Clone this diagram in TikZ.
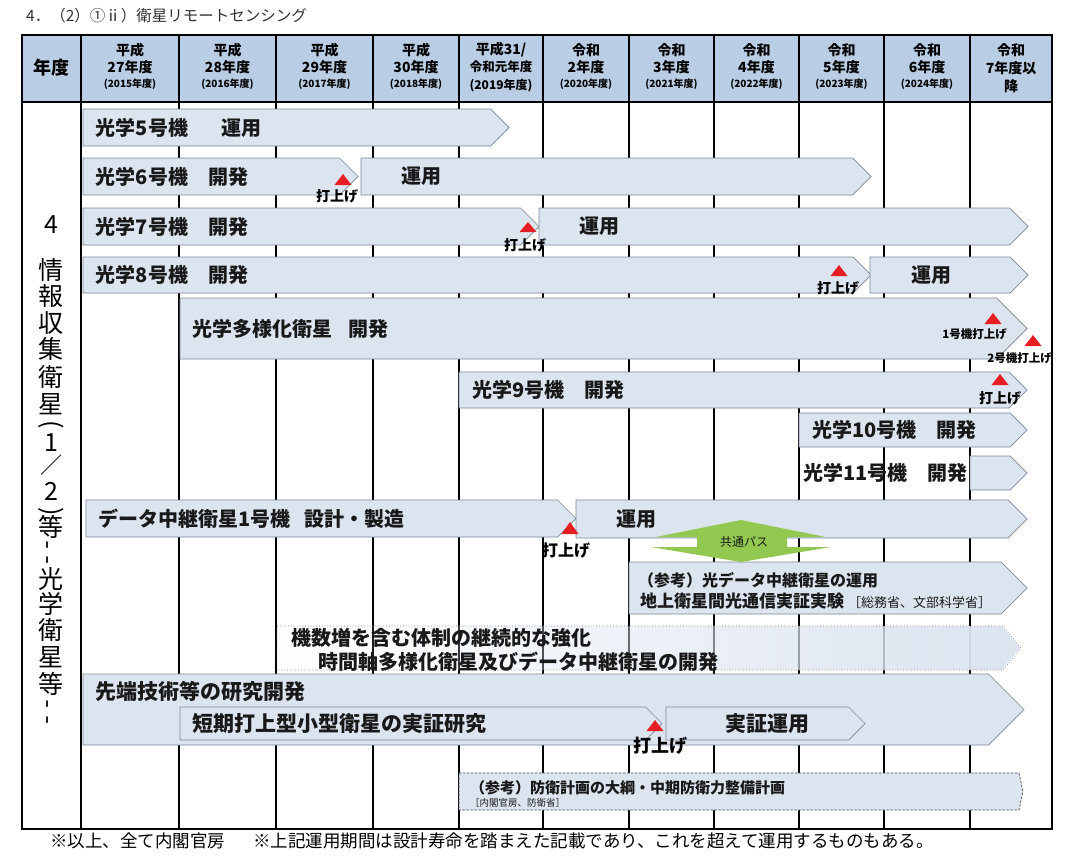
\documentclass[tikz,border=0pt]{standalone}
\usepackage{fontspec}
\setmainfont{Noto Sans CJK JP}
\usetikzlibrary{fadings}
\newcommand{\myfs}[1]{\fontsize{#1}{#1}\selectfont}
\definecolor{hdr}{RGB}{185,205,228}
\definecolor{barfill}{RGB}{220,228,240}
\definecolor{barline}{RGB}{125,135,150}
\definecolor{launchred}{RGB}{230,30,35}
\definecolor{passgreen}{RGB}{146,200,80}
\definecolor{titlegray}{RGB}{50,50,50}
\definecolor{txtc}{RGB}{25,25,25}
\tikzfading[name=fadefromleft, left color=transparent!100, right color=transparent!0]
\tikzset{
  gantt/.style={fill=barfill,draw=barline,line width=0.7pt},
  gridline/.style={line width=1.3pt,black},
  txt/.style={anchor=west,inner sep=0pt,text=txtc,font=\bfseries\myfs{20}},
  hd/.style={inner sep=0pt,font=\bfseries\myfs{14}},
  hds/.style={inner sep=0pt,font=\bfseries\myfs{10}},
  upl/.style={inner sep=0pt,font=\bfseries\myfs{14}},
  vt/.style={inner sep=0pt,font=\myfs{25}},
}
\newcommand{\gbar}[5][]{\draw[gantt,#1] (#2,#4) -- ({#3-(#5-#4)/2},#4) -- (#3,{(#4+#5)/2}) -- ({#3-(#5-#4)/2},#5) -- (#2,#5) -- cycle;}
\newcommand{\launch}[3]{\fill[launchred] ({#1-8.5},#3) -- ({#1+8.5},#3) -- (#1,#2) -- cycle;}
\begin{document}
\begin{tikzpicture}[x=1pt,y=-1pt]
\useasboundingbox (0,0) rectangle (1065,862);
\fill[white] (0,0) rectangle (1065,862);
% title
\node[anchor=west,inner sep=0pt,text=titlegray,font=\myfs{15.5}] (title) at (26,16) {4．（2）①ⅱ）衛星リモートセンシング};
% header
\fill[hdr] (22,35) rectangle (1052,102);
% grid
\foreach \gx in {179,276,373,459,543,629,714,799,884,970}
  \draw[gridline] (\gx,35) -- (\gx,829);
\draw[line width=2pt] (81,35) -- (81,829);
% bars
\gbar{83}{509}{109}{146}
\gbar{83}{358}{158}{195}
\gbar{361}{871}{158}{195}
\gbar{83}{539}{208}{245}
\gbar{539}{1028}{208}{245}
\gbar{83}{871}{257}{293}
\gbar{870}{1028}{257}{293}
\gbar{180}{1027}{298}{359}
\gbar{459}{1027}{372}{408}
\gbar{799}{1027}{413}{447}
\gbar{970}{1027}{456}{490}
\gbar{86}{576}{500}{537}
\gbar{576}{1027}{500}{538}
\gbar{629}{1027}{562}{614}
\fill[barfill,path fading=fadefromleft]
  (277,626) -- (1003,626) -- (1021,648) -- (1003,670) -- (277,670) -- cycle;
\draw[draw=gray,dotted,line width=0.8pt]
  (277,626) -- (1003,626) -- (1021,648) -- (1003,670) -- (277,670) -- cycle;
\gbar{83}{1024}{674}{745}
\gbar{180}{662}{707}{740}
\gbar{666}{865}{707}{740}
\draw[fill=barfill,draw=black!70,dash pattern=on 2.5pt off 1.5pt,line width=0.7pt]
  (459,773) -- (1019,773) -- (1023,791.5) -- (1019,810) -- (459,810) -- cycle;
% green common bus arrow
\fill[passgreen] (741,520) -- (826,537) -- (787,537) -- (787,547) -- (831,547)
  -- (741,562) -- (651,547) -- (697,547) -- (697,537) -- (656,537) -- cycle;
\node[inner sep=0pt,font=\myfs{12},text=txtc] (bus) at (744,542) {共通パス};
% borders
\draw[line width=2.4pt] (22,35) rectangle (1052,829);
\draw[line width=2.2pt] (22,102) -- (1052,102);
% header texts
\node[inner sep=0pt,font=\bfseries\myfs{18}] (nendo) at (51,68) {年度};
\node[hd] (h1a) at (130,50) {平成};
\node[hd] (h1b) at (130,67) {27年度};
\node[hds] (h1c) at (130,84) {(2015年度)};
\node[hd] (h2a) at (227.5,50) {平成};
\node[hd] (h2b) at (227.5,67) {28年度};
\node[hds] (h2c) at (227.5,84) {(2016年度)};
\node[hd] (h3a) at (324.5,50) {平成};
\node[hd] (h3b) at (324.5,67) {29年度};
\node[hds] (h3c) at (324.5,84) {(2017年度)};
\node[hd] (h4a) at (416,50) {平成};
\node[hd] (h4b) at (416,67) {30年度};
\node[hds] (h4c) at (416,84) {(2018年度)};
\node[hd] (h5a) at (501,50) {平成31/};
\node[inner sep=0pt,font=\bfseries\myfs{12.5}] (h5b) at (501,67) {令和元年度};
\node[inner sep=0pt,font=\bfseries\myfs{12}] (h5c) at (501,86) {(2019年度)};
\node[hd] (h6a) at (586,50) {令和};
\node[hd] (h6b) at (586,67) {2年度};
\node[hds] (h6c) at (586,84) {(2020年度)};
\node[hd] (h7a) at (671.5,50) {令和};
\node[hd] (h7b) at (671.5,67) {3年度};
\node[hds] (h7c) at (671.5,84) {(2021年度)};
\node[hd] (h8a) at (756.5,50) {令和};
\node[hd] (h8b) at (756.5,67) {4年度};
\node[hds] (h8c) at (756.5,84) {(2022年度)};
\node[hd] (h9a) at (841.5,50) {令和};
\node[hd] (h9b) at (841.5,67) {5年度};
\node[hds] (h9c) at (841.5,84) {(2023年度)};
\node[hd] (h10a) at (927,50) {令和};
\node[hd] (h10b) at (927,67) {6年度};
\node[hds] (h10c) at (927,84) {(2024年度)};
\node[hd] (h11a) at (1011,50) {令和};
\node[hd] (h11b) at (1011,68) {7年度以};
\node[hd] (h11c) at (1011,86) {降};
% left vertical label
\node[vt] (v0) at (51,225) {4};
\node[vt] (v1) at (51,269.6) {情};
\node[vt] (v2) at (51,296.2) {報};
\node[vt] (v3) at (51,323.5) {収};
\node[vt] (v4) at (51,349.4) {集};
\node[vt] (v5) at (51,377) {衛};
\node[vt] (v6) at (51,404.4) {星};
\node[vt,rotate=-90] (v7) at (51,425) {(};
\node[vt] (v8) at (51,443) {1};
\node[vt,font=\myfs{22}] (v9) at (51,465.5) {／};
\node[vt] (v10) at (51,491) {2};
\node[vt,rotate=-90] (v11) at (51,511.5) {)};
\node[vt] (v12) at (51,526.5) {等};
\node[vt,rotate=90] (v13) at (51,545) {-};
\node[vt,rotate=90] (v14) at (51,560.5) {-};
\node[vt] (v15) at (51,578.5) {光};
\node[vt] (v16) at (51,604) {学};
\node[vt] (v17) at (51,630) {衛};
\node[vt] (v18) at (51,657) {星};
\node[vt] (v19) at (51,683.5) {等};
\node[vt,rotate=90] (v20) at (51,704) {-};
\node[vt,rotate=90] (v21) at (51,720) {-};
% bar texts
\node[txt] (t5) at (95.7,127.5) {光学5号機\hspace{33pt}運用};
\node[txt] (t6) at (95.7,176.5) {光学6号機　開発};
\node[txt] (t6u) at (401,176.5) {運用};
\node[txt] (t7) at (95.7,226.5) {光学7号機　開発};
\node[txt] (t7u) at (579,226.5) {運用};
\node[txt] (t8) at (95.7,275) {光学8号機　開発};
\node[txt] (t8u) at (911,275) {運用};
\node[txt] (tm) at (192,329) {光学多様化衛星\hspace{16pt}開発};
\node[txt] (t9) at (472,390) {光学9号機　開発};
\node[txt] (t10) at (812,430) {光学10号機　開発};
\node[txt] (t11) at (803,473) {光学11号機　開発};
\node[txt] (td) at (98,519) {データ中継衛星1号機\hspace{14pt}設計・製造};
\node[txt] (tdu) at (616,519) {運用};
\node[txt,font=\bfseries\myfs{16}] (tr1) at (638,580) {（参考）光データ中継衛星の運用};
\node[txt,font=\bfseries\myfs{17}] (tr2) at (640,601) {地上衛星間光通信実証実験\hspace{4pt}{\mdseries\myfs{13}［総務省、文部科学省］}};
\node[txt] (tk1) at (291,638) {機数増を含む体制の継続的な強化};
\node[txt] (tk2) at (318.5,662) {時間軸多様化衛星及びデータ中継衛星の開発};
\node[txt,font=\bfseries\myfs{21}] (ts) at (95,692) {先端技術等の研究開発};
\node[txt,font=\bfseries\myfs{21}] (tt) at (192,724) {短期打上型小型衛星の実証研究};
\node[txt,font=\bfseries\myfs{21}] (tj) at (725,724) {実証運用};
\node[txt,font=\bfseries\myfs{15}] (tb1) at (470,788) {（参考）防衛計画の大綱・中期防衛力整備計画};
\node[txt,font=\myfs{9.5}] (tb2) at (470,803) {［内閣官房、防衛省］};
% launches
\launch{343}{174}{185}
\node[upl] (l6) at (337,196) {打上げ};
\launch{528}{222}{232}
\node[upl] (l7) at (525,245.5) {打上げ};
\launch{839}{265}{276}
\node[upl] (l8) at (838,288) {打上げ};
\launch{993}{313}{324}
\node[inner sep=0pt,font=\bfseries\myfs{11.5}] (lm1) at (974.5,334) {1号機打上げ};
\launch{1033}{335}{346}
\node[inner sep=0pt,font=\bfseries\myfs{11.5}] (lm2) at (1019.5,358) {2号機打上げ};
\launch{1000}{374}{385}
\node[upl] (l9) at (1000,398) {打上げ};
\launch{570}{522}{534}
\node[inner sep=0pt,font=\bfseries\myfs{16}] (ld) at (566,551) {打上げ};
\launch{655}{720}{731}
\node[inner sep=0pt,font=\bfseries\myfs{18}] (lt) at (660,746) {打上げ};
% footer
\node[anchor=west,inner sep=0pt,font=\myfs{17.5}] (f1) at (50,841) {※以上、全て内閣官房};
\node[anchor=west,inner sep=0pt,font=\myfs{17.5}] (f2) at (253,841) {※上記運用期間は設計寿命を踏まえた記載であり、これを超えて運用するものもある。};
\end{tikzpicture}
\end{document}
